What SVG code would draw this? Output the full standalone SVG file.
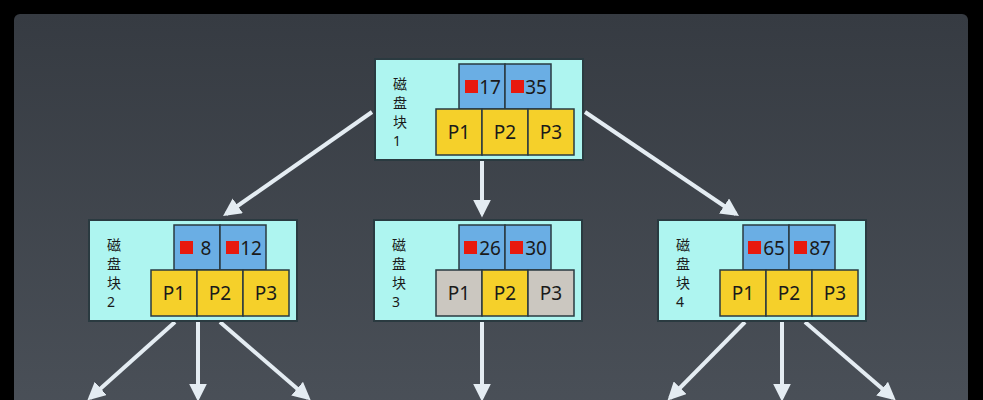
<svg xmlns="http://www.w3.org/2000/svg" width="983" height="400" viewBox="0 0 983 400">
<defs>
<linearGradient id="bg" x1="0" y1="0" x2="0" y2="1"><stop offset="0" stop-color="#363b42"/><stop offset="1" stop-color="#4a5058"/></linearGradient>
<marker id="ah" viewBox="0 0 10 10" refX="8" refY="5" markerWidth="4.5" markerHeight="4.5" orient="auto" markerUnits="strokeWidth"><path d="M0,0L10,5L0,10z" fill="#e4ecf2"/></marker>
</defs>
<style>
.box{fill:#aef5f0;stroke:#2a3a40;stroke-width:2}
.key{fill:#6aaee4;stroke:#2a3a40;stroke-width:1.5}
.p{fill:#f5d02a;stroke:#2a3a40;stroke-width:1.5}
.g{fill:#cbc7c0;stroke:#2a3a40;stroke-width:1.5}
.sq{fill:#e8190e}
text{font-family:"Noto Sans","Noto Sans CJK SC",sans-serif;fill:#1a1a1a}
.t{font-size:19px;text-anchor:middle}
.l{font-size:14px}
.c line{stroke:#e4ecf2;stroke-width:4;marker-end:url(#ah)}
</style>
<rect width="983" height="400" fill="#000"/>
<rect x="14" y="14" width="954" height="400" rx="6" fill="url(#bg)"/>
<g class="c">
<line x1="372" y1="112" x2="226" y2="214"/>
<line x1="482" y1="161" x2="482" y2="214"/>
<line x1="585" y1="112" x2="736" y2="214"/>
<line x1="175" y1="322" x2="90" y2="398"/>
<line x1="198" y1="322" x2="198" y2="398"/>
<line x1="220" y1="322" x2="308" y2="398"/>
<line x1="482" y1="322" x2="482" y2="398"/>
<line x1="745" y1="322" x2="670" y2="398"/>
<line x1="782" y1="322" x2="782" y2="398"/>
<line x1="805" y1="322" x2="893" y2="398"/>
</g>
<g id="n1" transform="translate(375,59)">
<rect class="box" width="208" height="101"/>
<rect class="key" x="84" y="5" width="46" height="45"/><rect class="key" x="130" y="5" width="46" height="45"/>
<rect class="sq" x="90" y="21" width="13" height="13"/><rect class="sq" x="136" y="21" width="13" height="13"/>
<text class="t" x="115" y="35">17</text><text class="t" x="161" y="35">35</text>
<rect class="p" x="61" y="50" width="46" height="46"/><rect class="p" x="107" y="50" width="46" height="46"/><rect class="p" x="153" y="50" width="46" height="46"/>
<text class="t" x="84" y="80">P1</text><text class="t" x="130" y="80">P2</text><text class="t" x="176" y="80">P3</text>
<text class="l" x="18" y="30">磁</text><text class="l" x="18" y="49">盘</text><text class="l" x="18" y="68">块</text><text class="l" x="18" y="87">1</text>
</g>
<g id="n2" transform="translate(89,220)">
<rect class="box" width="208" height="101"/>
<rect class="key" x="85" y="5" width="46" height="45"/><rect class="key" x="131" y="5" width="46" height="45"/>
<rect class="sq" x="91" y="21" width="13" height="13"/><rect class="sq" x="137" y="21" width="13" height="13"/>
<text class="t" x="117" y="35">8</text><text class="t" x="162" y="35">12</text>
<rect class="p" x="62" y="50" width="46" height="46"/><rect class="p" x="108" y="50" width="46" height="46"/><rect class="p" x="154" y="50" width="46" height="46"/>
<text class="t" x="85" y="80">P1</text><text class="t" x="131" y="80">P2</text><text class="t" x="177" y="80">P3</text>
<text class="l" x="18" y="30">磁</text><text class="l" x="18" y="49">盘</text><text class="l" x="18" y="68">块</text><text class="l" x="18" y="87">2</text>
</g>
<g id="n3" transform="translate(374,220)">
<rect class="box" width="208" height="101"/>
<rect class="key" x="85" y="5" width="46" height="45"/><rect class="key" x="131" y="5" width="46" height="45"/>
<rect class="sq" x="90" y="21" width="13" height="13"/><rect class="sq" x="136" y="21" width="13" height="13"/>
<text class="t" x="116" y="35">26</text><text class="t" x="162" y="35">30</text>
<rect class="g" x="62" y="50" width="46" height="46"/><rect class="p" x="108" y="50" width="46" height="46"/><rect class="g" x="154" y="50" width="46" height="46"/>
<text class="t" x="85" y="80">P1</text><text class="t" x="131" y="80">P2</text><text class="t" x="177" y="80">P3</text>
<text class="l" x="18" y="30">磁</text><text class="l" x="18" y="49">盘</text><text class="l" x="18" y="68">块</text><text class="l" x="18" y="87">3</text>
</g>
<g id="n4" transform="translate(658,220)">
<rect class="box" width="208" height="101"/>
<rect class="key" x="85" y="5" width="46" height="45"/><rect class="key" x="131" y="5" width="46" height="45"/>
<rect class="sq" x="90" y="21" width="13" height="13"/><rect class="sq" x="136" y="21" width="13" height="13"/>
<text class="t" x="116" y="35">65</text><text class="t" x="162" y="35">87</text>
<rect class="p" x="62" y="50" width="46" height="46"/><rect class="p" x="108" y="50" width="46" height="46"/><rect class="p" x="154" y="50" width="46" height="46"/>
<text class="t" x="85" y="80">P1</text><text class="t" x="131" y="80">P2</text><text class="t" x="177" y="80">P3</text>
<text class="l" x="18" y="30">磁</text><text class="l" x="18" y="49">盘</text><text class="l" x="18" y="68">块</text><text class="l" x="18" y="87">4</text>
</g>
</svg>
